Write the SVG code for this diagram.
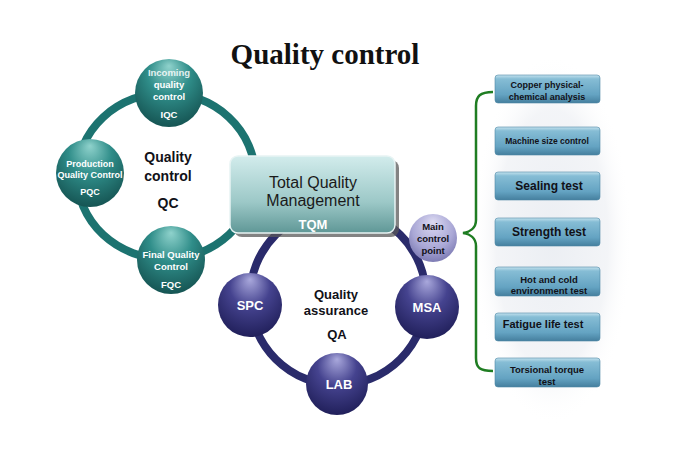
<svg xmlns="http://www.w3.org/2000/svg" width="680" height="461" viewBox="0 0 680 461">
<defs>
<radialGradient id="gTeal" cx="0.5" cy="0.35" r="0.7" fx="0.5" fy="0.1">
<stop offset="0" stop-color="#8fd2cc"/><stop offset="0.45" stop-color="#2f8d89"/><stop offset="1" stop-color="#134f4e"/>
</radialGradient>
<radialGradient id="gBlue" cx="0.5" cy="0.35" r="0.7" fx="0.5" fy="0.1">
<stop offset="0" stop-color="#a9a8dc"/><stop offset="0.45" stop-color="#45438f"/><stop offset="1" stop-color="#1d1c55"/>
</radialGradient>
<radialGradient id="gLav" cx="0.5" cy="0.4" r="0.7" fx="0.5" fy="0.15">
<stop offset="0" stop-color="#dcdaf2"/><stop offset="0.6" stop-color="#aaa8d6"/><stop offset="1" stop-color="#6e6ca8"/>
</radialGradient>
<linearGradient id="gTQM" x1="0" y1="0" x2="0" y2="1">
<stop offset="0" stop-color="#d2ecec"/><stop offset="0.6" stop-color="#9cc8c7"/><stop offset="1" stop-color="#5f9796"/>
</linearGradient>
<linearGradient id="gBar" x1="0" y1="0" x2="0" y2="1">
<stop offset="0" stop-color="#c4e2ee"/><stop offset="0.14" stop-color="#86bdd5"/><stop offset="0.7" stop-color="#64a3c2"/><stop offset="1" stop-color="#457f9e"/>
</linearGradient>
<radialGradient id="gPanel" cx="0.5" cy="0.5" r="0.5">
<stop offset="0" stop-color="#e3e7ee"/><stop offset="0.7" stop-color="#eef0f4"/><stop offset="1" stop-color="#ffffff" stop-opacity="0"/>
</radialGradient>
<style>
.t{font-family:"Liberation Sans",Arial,sans-serif;font-weight:bold;text-anchor:middle}
.w{fill:#ffffff}
.d{fill:#111118}
.bar{fill:url(#gBar);stroke:#4d88a6;stroke-width:0.6}
</style>
</defs>
<rect width="680" height="461" fill="#ffffff"/>
<ellipse cx="552" cy="240" rx="80" ry="185" fill="url(#gPanel)" opacity="0.7"/>

<text x="325" y="64" font-family="'Liberation Serif','Times New Roman',serif" font-weight="bold" font-size="29" text-anchor="middle" fill="#111">Quality control</text>

<g id="connectors">
<ellipse cx="166" cy="176" rx="89" ry="83" fill="none" stroke="#1c7370" stroke-width="8"/>
<circle cx="338" cy="297" r="88" fill="none" stroke="#2a2b6b" stroke-width="8"/>
<path d="M493,92 C480,92 476,96 476,106 L476,220 C476,228 470,232 463,233 C470,234 476,238 476,246 L476,358 C476,368 480,371 493,371" fill="none" stroke="#1f7d22" stroke-width="2.5"/>
</g>

<g id="qc-label">
<text class="t d" x="168" y="162" font-size="14">Quality</text>
<text class="t d" x="168" y="181" font-size="14">control</text>
<text class="t d" x="168" y="208" font-size="14">QC</text>
</g>
<g id="qa-label">
<text class="t d" x="336" y="299" font-size="13">Quality</text>
<text class="t d" x="336" y="315" font-size="13">assurance</text>
<text class="t d" x="337" y="339" font-size="13">QA</text>
</g>

<g id="tqm">
<rect x="234" y="160" width="165" height="77" rx="8" fill="#5a5a5a" opacity="0.75"/>
<rect x="230" y="156" width="165" height="77" rx="8" fill="url(#gTQM)" stroke="#e8f4f4" stroke-width="1.5"/>
<text x="313" y="188" font-family="'Liberation Sans',Arial,sans-serif" font-size="16" text-anchor="middle" fill="#1a1a1a">Total Quality</text>
<text x="313" y="206" font-family="'Liberation Sans',Arial,sans-serif" font-size="16" text-anchor="middle" fill="#1a1a1a">Management</text>
<text class="t w" x="313" y="229" font-size="13">TQM</text>
</g>

<g id="iqc">
<circle cx="169" cy="93" r="34" fill="url(#gTeal)"/>
<text class="t w" x="169" y="76" font-size="9.5" opacity="0.85">Incoming</text>
<text class="t w" x="169" y="88" font-size="9.5">quality</text>
<text class="t w" x="169" y="100" font-size="9.5">control</text>
<text class="t w" x="169" y="118" font-size="9.5">IQC</text>
</g>
<g id="pqc">
<circle cx="90" cy="173" r="34" fill="url(#gTeal)"/>
<text class="t w" x="90" y="167" font-size="9">Production</text>
<text class="t w" x="90" y="178" font-size="9">Quality Control</text>
<text class="t w" x="90" y="195" font-size="9">PQC</text>
</g>
<g id="fqc">
<circle cx="171" cy="260" r="34" fill="url(#gTeal)"/>
<text class="t w" x="171" y="258" font-size="9.5">Final Quality</text>
<text class="t w" x="171" y="270" font-size="9.5">Control</text>
<text class="t w" x="171" y="288" font-size="9.5">FQC</text>
</g>

<g id="spc">
<circle cx="250" cy="305" r="32" fill="url(#gBlue)"/>
<text class="t w" x="250" y="310" font-size="13">SPC</text>
</g>
<g id="msa">
<circle cx="427" cy="307" r="32" fill="url(#gBlue)"/>
<text class="t w" x="427" y="312" font-size="13">MSA</text>
</g>
<g id="lab">
<circle cx="337" cy="384" r="31" fill="url(#gBlue)"/>
<text class="t w" x="339" y="389" font-size="13">LAB</text>
</g>
<g id="mcp">
<circle cx="433" cy="238" r="24" fill="url(#gLav)"/>
<text class="t d" x="433" y="230" font-size="9.5">Main</text>
<text class="t d" x="433" y="242" font-size="9.5">control</text>
<text class="t d" x="433" y="254" font-size="9.5">point</text>
</g>

<g id="b1"><rect class="bar" x="495" y="75" width="105" height="28" rx="3"/>
<text class="t d" x="547" y="88" font-size="9">Copper physical-</text>
<text class="t d" x="547" y="100" font-size="9">chemical  analysis</text></g>
<g id="b2"><rect class="bar" x="495" y="127" width="105" height="28" rx="3"/>
<text class="t d" x="547" y="144" font-size="8.5">Machine size control</text></g>
<g id="b3"><rect class="bar" x="495" y="172" width="105" height="28" rx="3"/>
<text class="t d" x="549" y="190" font-size="12">Sealing test</text></g>
<g id="b4"><rect class="bar" x="495" y="218" width="105" height="28" rx="3"/>
<text class="t d" x="549" y="236" font-size="12">Strength test</text></g>
<g id="b5"><rect class="bar" x="495" y="267" width="105" height="29" rx="3"/>
<text class="t d" x="549" y="283" font-size="9.5">Hot and cold</text>
<text class="t d" x="549" y="294" font-size="9.5">environment test</text></g>
<g id="b6"><rect class="bar" x="495" y="313" width="105" height="28" rx="3"/>
<text class="t d" x="543" y="328" font-size="11">Fatigue life test</text></g>
<g id="b7"><rect class="bar" x="495" y="358" width="105" height="29" rx="3"/>
<text class="t d" x="547" y="373" font-size="9.5">Torsional torque</text>
<text class="t d" x="547" y="385" font-size="9.5">test</text></g>
</svg>
